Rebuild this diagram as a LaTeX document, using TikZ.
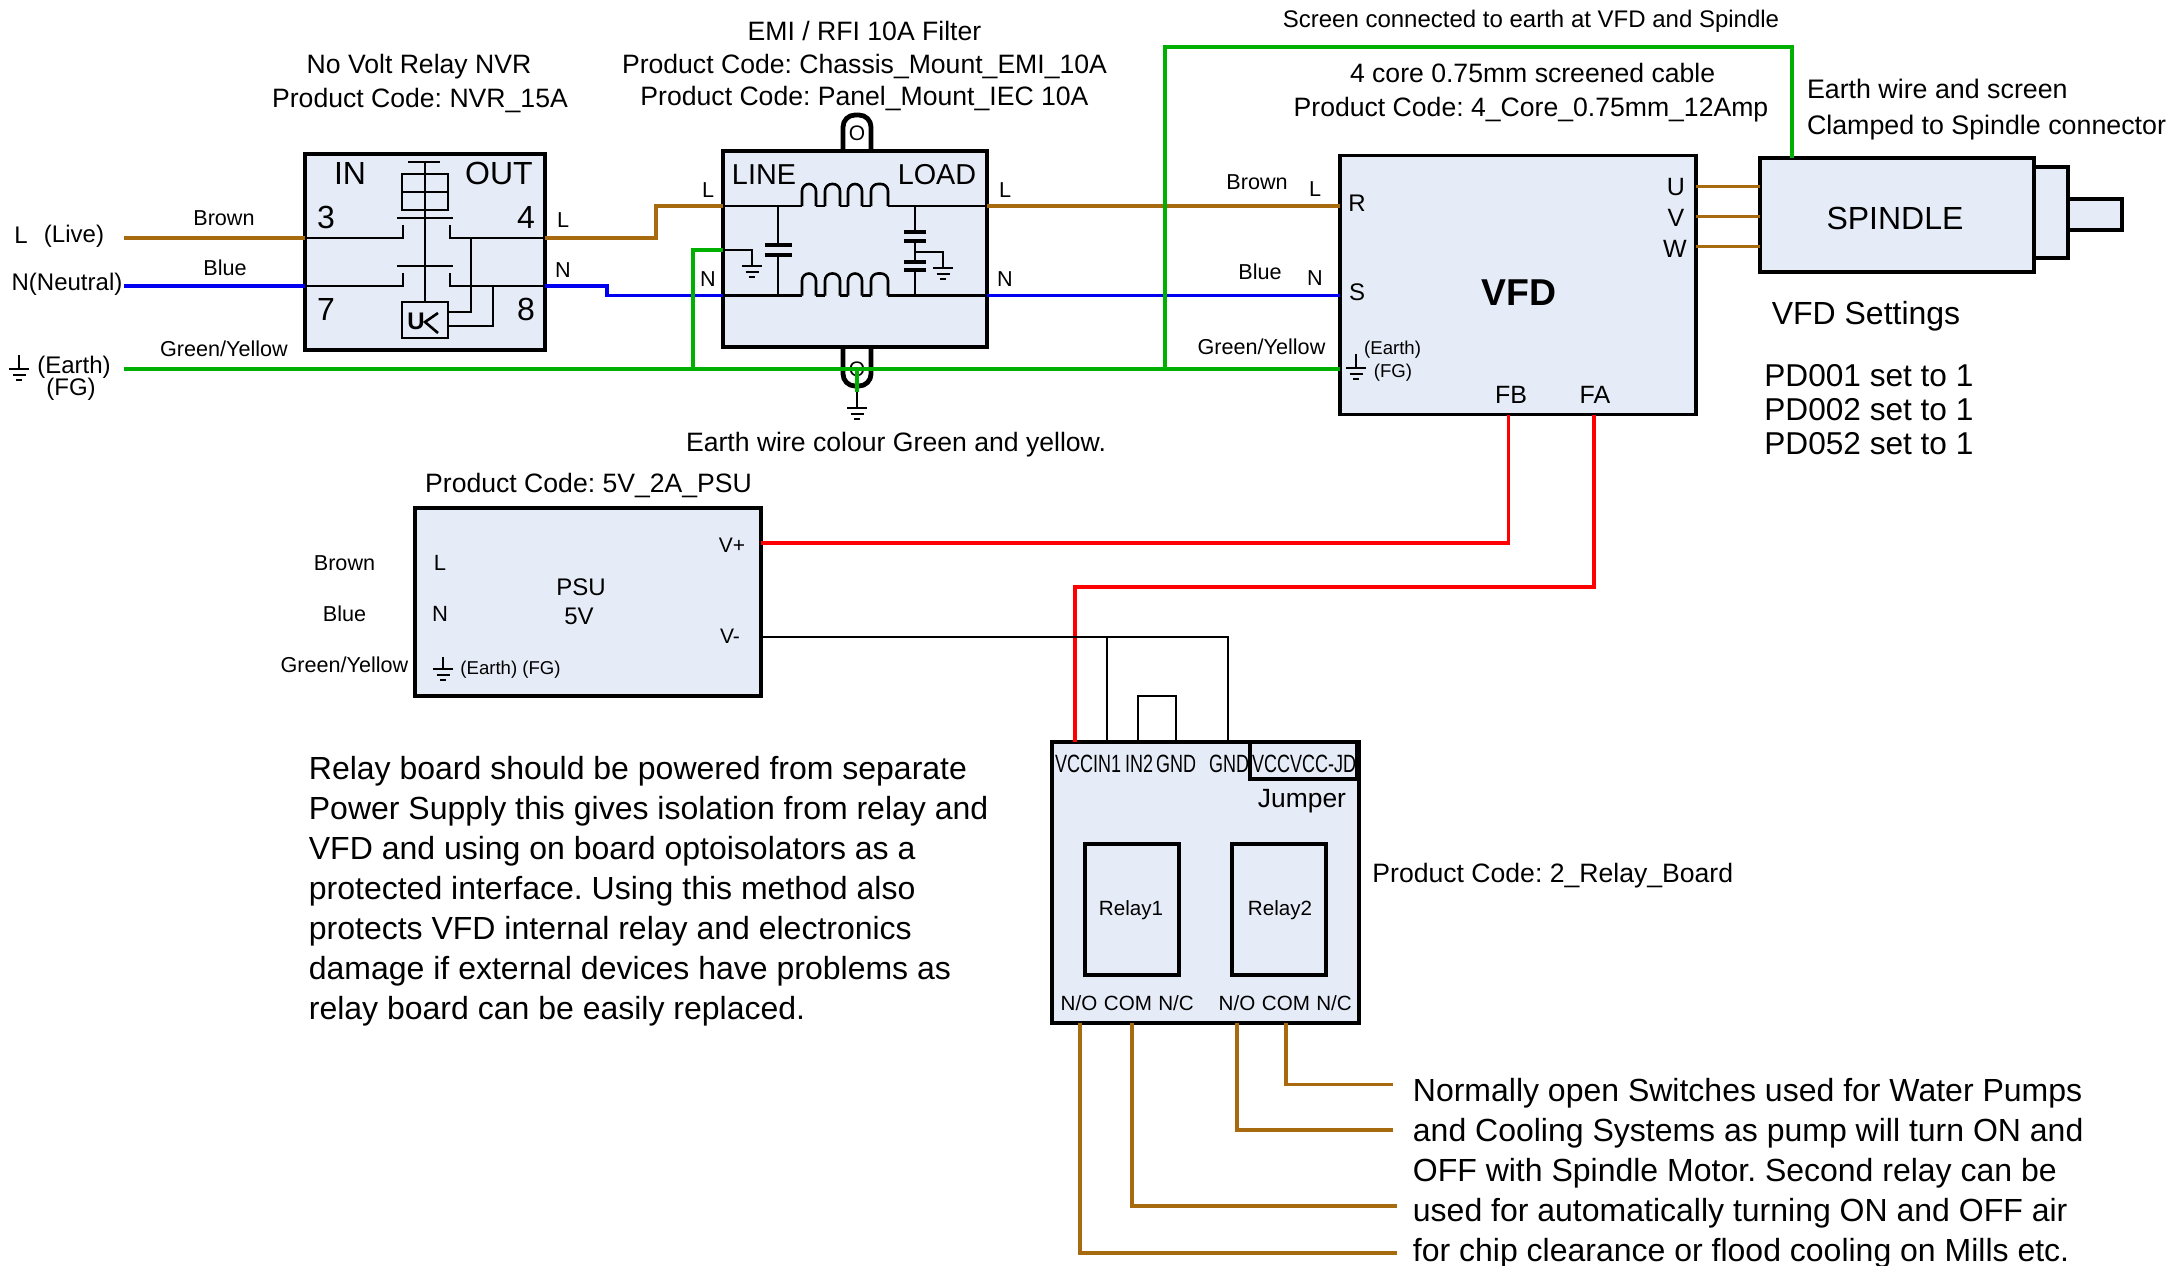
\documentclass[tikz,border=0pt]{standalone}
\usepackage{fontspec}
\setmainfont{Liberation Sans}
\frenchspacing
\definecolor{boxblue}{HTML}{E6ECF7}
\definecolor{brownwire}{HTML}{A86A0E}
\definecolor{bluewire}{HTML}{0000F0}
\definecolor{greenwire}{HTML}{00B000}
\definecolor{redwire}{HTML}{FF0000}
\tikzset{
    fs/.style={inner sep=0pt, font=\fontsize{#1}{20}\selectfont, text height=#1*0.72pt, text depth=0pt},
    nw/.style={fs=#1, anchor=west},
    box/.style={draw, line width=1.7pt, fill=boxblue, rectangle, inner sep=0pt, outer sep=0pt},
    hollow/.style={draw, line width=1.7pt, rectangle, inner sep=0pt, outer sep=0pt},
    blk/.style={line width=1.3pt},
    thn/.style={line width=0.8pt},
    brownw/.style={draw=brownwire, line width=1.7pt},
    bluew/.style={draw=bluewire, line width=1.7pt},
    greenw/.style={draw=greenwire, line width=1.7pt},
    redw/.style={draw=redwire, line width=1.6pt},
    earth/.pic={\draw[thn] (-10,0) -- (10,0) (-6.5,6) -- (6.5,6) (-3,11) -- (3,11);},
    coil/.pic={
        \foreach \s/\e/\n in {0/14/23,23/38/46,46/60/69,69/86/86}{
            \draw[blk, rounded corners=3.5pt] (\s,0) -- (\s,-22) -- (\e,-22) -- (\e,0);
            \draw[blk] (\e,0) -- (\n,0);
        }
    }
}
\newcommand{\nrw}[1]{\scalebox{0.72}[1]{#1}}
\begin{document}
\begin{tikzpicture}[
                            x=0.5pt,
                            y=-0.5pt,
                            node distance=2cm
                            ]
    \useasboundingbox (0,0) rectangle (2169,1265);

    \draw[line width=2.4pt, rounded corners=6pt] (843,151) -- (843,115) -- (871,115) -- (871,151);
    \draw[line width=2.4pt, rounded corners=6pt] (843,347) -- (843,386) -- (871,386) -- (871,347);
    \node [fs=10.5] (toplug) at (857,133) {O};
    \node [fs=10.5] (botlug) at (857,369) {O};

    \node [box, minimum width=120pt, minimum height=98pt] (nvr) at (425,252) {};
    \node [box, minimum width=132pt, minimum height=98pt] (emi) at (855,249) {};
    \node [box, minimum width=178pt, minimum height=129.5pt] (vfd) at (1518,285) {};
    \node [box, minimum width=137pt, minimum height=57pt] (spindle) at (1897,215) {};
    \node [box, minimum width=17pt, minimum height=45.5pt] (collar) at (2051,212.5) {};
    \node [box, minimum width=27pt, minimum height=15.5pt] (shaft) at (2095,214.5) {};
    \node [box, minimum width=173pt, minimum height=94pt] (psu) at (588,602) {};
    \node [box, minimum width=153.5pt, minimum height=140.5pt] (board) at (1205.5,882.5) {};
    \node [hollow, line width=2.1pt, minimum width=53.5pt, minimum height=18.5pt] (jumper) at (1303.5,760.5) {};
    \node [hollow, minimum width=47pt, minimum height=65.5pt] (relaya) at (1132,909.5) {};
    \node [hollow, minimum width=47pt, minimum height=65.5pt] (relayb) at (1279,909.5) {};

    \node [coordinate] (lin) at (124,238) {};
    \node [coordinate] (nin) at (124,286) {};
    \node [coordinate] (ein) at (124,369) {};
    \node [coordinate] (emil) at (723,206) {};
    \node [coordinate] (emin) at (723,295.5) {};
    \node [coordinate] (emig) at (723,250) {};
    \node [coordinate] (emilo) at (987,206) {};
    \node [coordinate] (emino) at (987,295.5) {};
    \node [coordinate] (vfdr) at (1340,206) {};
    \node [coordinate] (vfds) at (1340,295.5) {};
    \node [coordinate] (vfde) at (1340,369) {};
    \node [coordinate] (screen) at (1792,158) {};
    \node [coordinate] (vplus) at (761,543) {};
    \node [coordinate] (vminus) at (761,637) {};
    \node [coordinate] (fbpin) at (1508.5,415) {};
    \node [coordinate] (fapin) at (1594,415) {};
    \node [coordinate] (vccpin) at (1075,742) {};
    \node [coordinate] (inapin) at (1107,742) {};
    \node [coordinate] (inbpin) at (1138,742) {};
    \node [coordinate] (gndapin) at (1176,742) {};
    \node [coordinate] (gndbpin) at (1228,742) {};
    \node [coordinate] (noa) at (1080,1023) {};
    \node [coordinate] (coma) at (1132,1023) {};
    \node [coordinate] (nob) at (1237,1023) {};
    \node [coordinate] (comb) at (1286,1023) {};
    \node [coordinate] (enda) at (1397,1253) {};
    \node [coordinate] (endb) at (1397,1206) {};
    \node [coordinate] (endc) at (1393,1130) {};
    \node [coordinate] (endd) at (1393,1084.5) {};
    \node [coordinate] (uo) at (1696,186.7) {};
    \node [coordinate] (vo) at (1696,216.7) {};
    \node [coordinate] (wo) at (1696,246.7) {};

    % no volt relay
    \draw[blk] (lin -| nvr.west) -- (403,238) -- (403,225);
    \draw[blk] (lin -| nvr.east) -- (450,238) -- (450,225);
    \draw[blk] (nin -| nvr.west) -- (403,286) -- (403,273);
    \draw[blk] (nin -| nvr.east) -- (450,286) -- (450,273);
    \draw[blk] (397,218) -- (453,218) (397,266) -- (453,266);
    \node [hollow, line width=1.3pt, minimum width=23pt, minimum height=18pt] (ukbox) at (425,320) {};
    \node [hollow, line width=1.3pt, minimum width=23pt, minimum height=18pt] (coilbox) at (425,192) {};
    \draw[blk] (408,162) -- (440,162) (425,162) -- (ukbox.north);
    \draw[blk] (coilbox.west) -- (coilbox.east);
    \draw[blk] (471,238) |- (448,312);
    \draw[blk] (493,286) |- (448,326);
    \node [fs=12, font=\fontsize{12}{20}\selectfont\bfseries] (uk) at (416,321) {U};
    \draw[blk] (438,313) -- (425,322) -- (438,333);

    % filter
    \draw[blk] (emil) -- (802,206);
    \draw[blk] (888,206) -- (emilo);
    \draw[blk] (emin) -- (802,295.5);
    \draw[blk] (888,295.5) -- (emino);
    \pic at (802,206) {coil};
    \pic at (802,295.5) {coil};
    \draw[blk] (778,206) -- (778,245) (778,255) -- (778,295.5);
    \draw[line width=1.6pt] (765,245) -- (792,245) (765,255) -- (792,255);
    \draw[blk] (915,206) -- (915,232) (915,241) -- (915,262) (915,270) -- (915,295.5);
    \draw[line width=1.6pt] (904,232) -- (926,232) (904,241) -- (926,241) (904,262) -- (926,262) (904,270) -- (926,270);
    \draw[thn] (915,252) -| (943,268);
    \pic at (943,268) {earth};
    \draw[thn] (emig) -| (752,266);
    \pic at (752,266) {earth};
    \draw[thn] (857,390) -- (857,407);
    \pic at (857,408) {earth};

    % wires
    \draw[brownw] (lin) -- (lin -| nvr.west);
    \draw[bluew] (nin) -- (nin -| nvr.west);
    \draw[brownw] (lin -| nvr.east) -- ++(111,0) |- (emil);
    \draw[bluew] (nin -| nvr.east) -- ++(62,0) |- (emin);
    \draw[brownw] (emilo) -- (vfdr);
    \draw[bluew] (emino) -- (vfds);
    \draw[greenw] (ein) -- (vfde);
    \draw[greenw] (emig) -| (693,369);
    \draw[greenw] (857,369) -- (857,392);
    \draw[greenw] (1165,369) |- (1792,47) -- (screen);
    \draw[brownw] (uo) -- (uo -| spindle.west);
    \draw[brownw] (vo) -- (vo -| spindle.west);
    \draw[brownw] (wo) -- (wo -| spindle.west);
    \draw[redw] (vplus) -| (fbpin);
    \draw[redw] (fapin) |- (1075,587) -- (vccpin);
    \draw[blk] (vminus) -| (gndbpin);
    \draw[blk] (inapin) -- (1107,637);
    \draw[blk] (inbpin) |- (1176,696) -- (gndapin);
    \draw[brownw] (noa) |- (enda);
    \draw[brownw] (coma) |- (endb);
    \draw[brownw] (nob) |- (endc);
    \draw[brownw] (comb) |- (endd);

    % earth symbols
    \draw[thn] (19,355) -- (19,369);
    \pic at (19,369) {earth};
    \draw[thn] (1356,354) -- (1356,368);
    \pic at (1356,368) {earth};
    \draw[thn] (443,657) -- (443,669);
    \pic at (443,669) {earth};

    % captions
    \node [fs=12] (screencap) at (1531,19) {Screen connected to earth at VFD and Spindle};
    \node [fs=13.3] (emicapa) at (864.5,31) {EMI / RFI 10A Filter};
    \node [fs=13.3] (emicapb) at (864.5,64) {Product Code: Chassis\_Mount\_EMI\_10A};
    \node [fs=13.3] (emicapc) at (864.5,96) {Product Code: Panel\_Mount\_IEC 10A};
    \node [fs=13.3] (nvrcapa) at (419,64) {No Volt Relay NVR};
    \node [fs=13.3] (nvrcapb) at (420,98) {Product Code: NVR\_15A};
    \node [fs=13.3] (cablea) at (1532.6,73) {4 core 0.75mm screened cable};
    \node [fs=13.3] (cableb) at (1531,107) {Product Code: 4\_Core\_0.75mm\_12Amp};
    \node [nw=13.4] (clampa) at (1806.6,89) {Earth wire and screen};
    \node [nw=13.4] (clampb) at (1806.6,124.5) {Clamped to Spindle connector};
    \node [fs=13.3] (earthcap) at (896,442) {Earth wire colour Green and yellow.};
    \node [fs=13.3] (psucap) at (588.6,483) {Product Code: 5V\_2A\_PSU};
    \node [nw=13.3] (boardcap) at (1372,873) {Product Code: 2\_Relay\_Board};
    \node [fs=16] (settings) at (1866,313) {VFD Settings};
    \node [nw=15.8] (pda) at (1764,375) {PD001 set to 1};
    \node [nw=15.8] (pdb) at (1764,409) {PD002 set to 1};
    \node [nw=15.8] (pdc) at (1764,443) {PD052 set to 1};

    % wire names
    \node [fs=10.8] (nbrown) at (224,218) {Brown};
    \node [fs=10.8] (nblue) at (225,268) {Blue};
    \node [fs=10.8] (ngreen) at (224,349) {Green/Yellow};
    \node [fs=12] (live) at (21,235) {L};
    \node [fs=12] (livetxt) at (74,234) {(Live)};
    \node [fs=12] (neutral) at (67,282) {N(Neutral)};
    \node [fs=12] (eartha) at (74,365) {(Earth)};
    \node [fs=12] (earthb) at (71,387) {(FG)};
    \node [fs=10.8] (vbrown) at (1257,182) {Brown};
    \node [fs=10.8] (vblue) at (1260,272) {Blue};
    \node [fs=10.8] (vgreen) at (1261.5,347) {Green/Yellow};
    \node [fs=10.8] (pbrown) at (344.5,563) {Brown};
    \node [fs=10.8] (pblue) at (344.5,614) {Blue};
    \node [fs=10.8] (pgreen) at (344.5,665) {Green/Yellow};

    % no volt relay labels
    \node [fs=16] (nvrin) at (350,173) {IN};
    \node [fs=16] (nvrout) at (499,173) {OUT};
    \node [fs=16] (nvrc) at (326,217) {3};
    \node [fs=16] (nvrd) at (526,217) {4};
    \node [fs=16] (nvrg) at (326,309) {7};
    \node [fs=16] (nvrh) at (526,309) {8};
    \node [fs=10.8] (nvrl) at (563,220) {L};
    \node [fs=10.8] (nvrn) at (563,270) {N};

    % filter labels
    \node [fs=14.4] (line) at (764,174) {LINE};
    \node [fs=14.4] (load) at (937,174) {LOAD};
    \node [fs=10.8] (emill) at (708,190) {L};
    \node [fs=10.8] (eminl) at (708,279) {N};
    \node [fs=10.8] (emilr) at (1005,190) {L};
    \node [fs=10.8] (eminr) at (1005,279) {N};

    % vfd and spindle labels
    \node [fs=18.7, font=\fontsize{18.7}{20}\selectfont\bfseries] (vfdname) at (1519,292) {VFD};
    \node [fs=16] (spname) at (1895,218) {SPINDLE};
    \node [fs=12] (rlab) at (1357,203) {R};
    \node [fs=12] (slab) at (1357,292) {S};
    \node [fs=10.8] (llab) at (1315,189) {L};
    \node [fs=10.8] (nlab) at (1315,278) {N};
    \node [fs=9.3] (vea) at (1392.6,348) {(Earth)};
    \node [fs=9.3] (veb) at (1393,371) {(FG)};
    \node [fs=12.5] (fb) at (1511,394) {FB};
    \node [fs=12.5] (fa) at (1595,394) {FA};
    \node [fs=12.5] (ulab) at (1676,186) {U};
    \node [fs=12.5] (vlab) at (1676,217) {V};
    \node [fs=12.5] (wlab) at (1675,248) {W};

    % psu labels
    \node [fs=12] (psua) at (581,586.5) {PSU};
    \node [fs=12] (psub) at (579,616) {5V};
    \node [fs=11] (psul) at (440,563) {L};
    \node [fs=11] (psun) at (440,614) {N};
    \node [fs=10.5] (psuv) at (732,545) {V+};
    \node [fs=10.5] (psum) at (730,636) {V-};
    \node [nw=9.3] (psue) at (460,668) {(Earth) (FG)};

    % relay board labels
    \foreach \x/\t/\n in {1074/VCC/pa,1107/IN1/pb,1139/IN2/pc,1176/GND/pd,1229/GND/pe,1271/VCC/pf,1323/VCC-JD/pg}
        \node [fs=12.5] (\n) at (\x,763) {\nrw{\t}};
    \node [fs=13.2] (jlab) at (1302,798) {Jumper};
    \node [fs=10.3] (relayatxt) at (1131,908) {Relay1};
    \node [fs=10.3] (relaybtxt) at (1280,908) {Relay2};
    \foreach \x/\t/\n in {1079/{N/O}/qa,1128/COM/qb,1176/{N/C}/qc,1237/{N/O}/qd,1286/COM/qe,1334/{N/C}/qf}
        \node [fs=10.3] (\n) at (\x,1003) {\t};

    % text blocks
    \node [inner sep=0pt, anchor=north west, align=left, font=\fontsize{16}{20}\selectfont] (relaynote) at (308.5,756) {Relay board should be powered from separate\\Power Supply this gives isolation from relay and\\VFD and using on board optoisolators as a\\protected interface. Using this method also\\protects VFD internal relay and electronics\\damage if external devices have problems as\\relay board can be easily replaced.};
    \node [inner sep=0pt, anchor=north west, align=left, font=\fontsize{16}{20}\selectfont] (switchnote) at (1412.5,1078) {Normally open Switches used for Water Pumps\\and Cooling Systems as pump will turn ON and\\OFF with Spindle Motor. Second relay can be\\used for automatically turning ON and OFF air\\for chip clearance or flood cooling on Mills etc.};
\end{tikzpicture}
\end{document}
